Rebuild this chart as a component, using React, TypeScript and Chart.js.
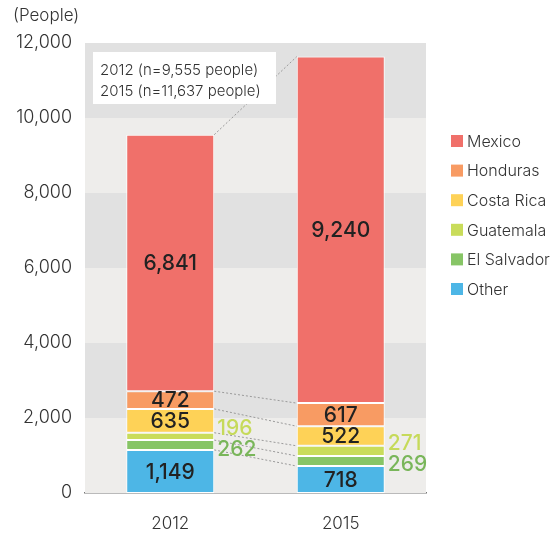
import React, { useEffect, useRef } from "react";
import { Chart, registerables } from "chart.js";

Chart.register(...registerables);

const categories = ["2012", "2015"];
const seriesNames = ["Other", "El Salvador", "Guatemala", "Costa Rica", "Honduras", "Mexico"];
const other = [1149, 718];
const elSalvador = [262, 269];
const guatemala = [196, 271];
const costaRica = [635, 522];
const honduras = [472, 617];
const mexico = [6841, 9240];
const seriesColors = ["#4db6e6", "#87c566", "#c9dc5a", "#fed257", "#f89b63", "#f0706a"];
const outsideLabelColors = ["", "#79b65a", "#c6da5a", "", "", ""];
const yMax = 12000;
const yStep = 2000;
const yUnit = "(People)";
const noteLines = ["2012 (n=9,555 people)", "2015 (n=11,637 people)"];

const FONT = "Inter, 'Liberation Sans', sans-serif";

const fmt = (v: number) => v.toLocaleString("en-US");

const bandsPlugin = {
  id: "bands",
  beforeDatasetsDraw(chart: any) {
    const { ctx, chartArea } = chart;
    const y = chart.scales.y;
    ctx.save();
    for (let v = 0; v < yMax; v += yStep) {
      const idx = Math.round(v / yStep);
      const top = y.getPixelForValue(v + yStep);
      const bot = y.getPixelForValue(v);
      ctx.fillStyle = idx % 2 === 1 ? "#e1e1e1" : "#eeedeb";
      ctx.fillRect(chartArea.left, top, chartArea.right - chartArea.left, bot - top);
    }
    ctx.strokeStyle = "#9a9a9a";
    ctx.lineWidth = 1;
    ctx.setLineDash([2, 2]);
    chart.data.datasets.forEach((_: any, i: number) => {
      const meta = chart.getDatasetMeta(i);
      const a = meta.data[0];
      const b = meta.data[1];
      ctx.beginPath();
      ctx.moveTo(a.x + a.width / 2, a.y);
      ctx.lineTo(b.x - b.width / 2, b.y);
      ctx.stroke();
    });
    ctx.setLineDash([]);
    ctx.restore();
  },
  afterDatasetsDraw(chart: any) {
    const { ctx } = chart;
    ctx.save();
    ctx.fillStyle = "#ffffff";
    ctx.fillRect(93, 52, 183, 52);
    ctx.fillStyle = "#333333";
    ctx.font = `300 15px ${FONT}`;
    ctx.textAlign = "left";
    ctx.textBaseline = "middle";
    ctx.fillText(noteLines[0], 100, 70);
    ctx.fillText(noteLines[1], 100, 91);

    ctx.font = `500 21px ${FONT}`;
    const metas = chart.data.datasets.map((_: any, i: number) => chart.getDatasetMeta(i));
    chart.data.datasets.forEach((ds: any, i: number) => {
      ds.data.forEach((v: number, j: number) => {
        const el = metas[i].data[j];
        if (i === 1 || i === 2) {
          const g = metas[2].data[j];
          const e = metas[1].data[j];
          const mid = (g.y + e.base) / 2 - 2;
          const yy = i === 2 ? mid - 10.5 : mid + 10.5;
          ctx.fillStyle = outsideLabelColors[i];
          ctx.textAlign = "left";
          ctx.fillText(fmt(v), el.x + el.width / 2 + 3, yy);
        } else {
          ctx.fillStyle = "#222222";
          ctx.textAlign = "center";
          ctx.fillText(fmt(v), el.x, (el.y + el.base) / 2 + 1);
        }
      });
    });

    ctx.fillStyle = "#333333";
    ctx.font = `300 17px ${FONT}`;
    ctx.textAlign = "left";
    ctx.fillText(yUnit, 13, 16);

    ctx.font = `300 16px ${FONT}`;
    const order = [...chart.data.datasets.keys()].reverse();
    order.forEach((i: number, k: number) => {
      const cy = 141 + k * 29.6;
      ctx.fillStyle = seriesColors[i];
      ctx.fillRect(451, cy - 6, 12, 12);
      ctx.fillStyle = "#333333";
      ctx.fillText(chart.data.datasets[i].label, 467, cy + 1);
    });
    ctx.restore();
  },
};

export default function App() {
  const ref = useRef<HTMLCanvasElement | null>(null);
  useEffect(() => {
    document.body.style.margin = "0";
    const values = [other, elSalvador, guatemala, costaRica, honduras, mexico];
    const chart = new Chart(ref.current as HTMLCanvasElement, {
      type: "bar",
      data: {
        labels: categories,
        datasets: values.map((d, i) => ({
          label: seriesNames[i],
          data: d,
          backgroundColor: seriesColors[i],
          borderColor: "#ffffff",
          borderWidth: 1,
          borderSkipped: false,
          barPercentage: 0.516,
          categoryPercentage: 1,
        })),
      },
      options: {
        responsive: false,
        animation: false,
        devicePixelRatio: 1,
        layout: { padding: { top: 43, right: 132, left: 0, bottom: 0 } },
        plugins: { legend: { display: false }, tooltip: { enabled: false } },
        scales: {
          x: {
            stacked: true,
            grid: { display: false, drawTicks: false },
            border: { display: true, color: "#777777", width: 1.5 },
            ticks: { color: "#333333", font: { family: FONT, size: 17, weight: "300" }, padding: 21 },
            afterFit: (s: any) => { s.height = 42; },
          },
          y: {
            stacked: true,
            min: 0,
            max: yMax,
            grid: { display: false, drawTicks: false },
            border: { display: false },
            ticks: {
              stepSize: yStep,
              color: "#333333",
              font: { family: FONT, size: 18, weight: "300" },
              padding: 13,
              callback: (v: any) => fmt(Number(v)),
            },
            afterFit: (s: any) => { s.width = 85; },
          },
        },
      },
      plugins: [bandsPlugin],
    });
    return () => chart.destroy();
  }, []);
  return (
    <div style={{ position: "absolute", left: 0, top: 0, width: 558, height: 535 }}>
      <canvas ref={ref} width={558} height={535} />
    </div>
  );
}
